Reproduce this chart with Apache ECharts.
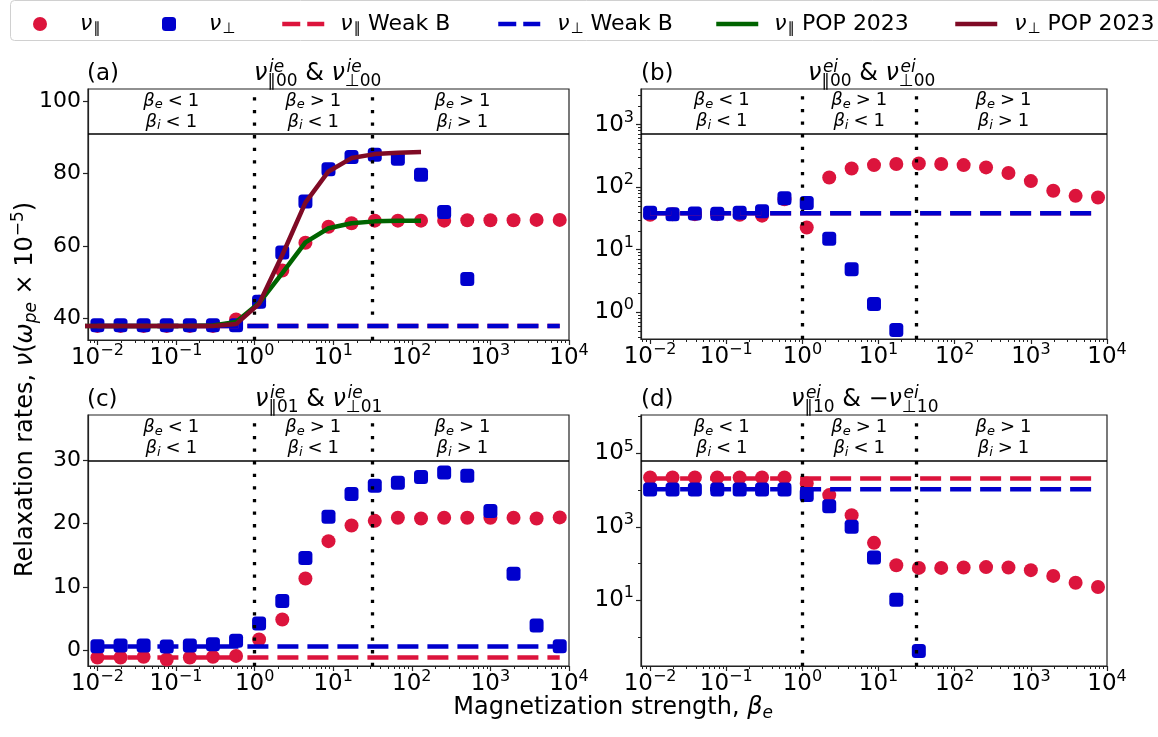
<!DOCTYPE html>
<html>
<head>
<meta charset="utf-8">
<script src="https://cdn.jsdelivr.net/npm/echarts@6.0.0/dist/echarts.min.js"></script>
<style>
  html, body { margin: 0; background: #fff; }
  #main { width: 1158px; height: 737px; }
</style>
</head>
<body>
<div id="main"></div>
<script>
// magnetization strength beta_e of every sample
var beta = [0.01, 0.0197, 0.0387, 0.0762, 0.150, 0.295, 0.581, 1.14, 2.25, 4.43, 8.71,
            17.1, 33.8, 66.5, 131, 258, 508, 1000, 1970, 3870, 7620];

// (a) nu^ie_00
var aPar  = [37.9, 37.9, 37.9, 37.9, 37.9, 37.9, 39.7, 44.6, 53.2, 60.9, 65.3, 66.3, 67.0, 67.0, 67.0, 67.0, 67.1, 67.1, 67.1, 67.2, 67.2];
var aPerp = [38.1, 38.1, 38.1, 38.1, 38.1, 38.1, 38.1, 44.6, 58.2, 72.3, 81.2, 84.6, 85.2, 84.1, 79.7, 69.4, 50.9, null, null, null, null];
var aWeak = [37.9, 37.9];   // parallel, perpendicular
var popBeta = [0.005, 0.01, 0.0197, 0.0387, 0.0762, 0.150, 0.295, 0.581, 1.14, 2.25, 4.43, 8.71, 17.1, 33.8, 66.5, 131];
var popPar  = [37.9, 37.9, 37.9, 37.9, 37.9, 37.9, 38.0, 39.0, 44.2, 52.5, 61.0, 64.9, 66.3, 66.8, 67.0, 67.0];
var popPerp = [37.9, 37.9, 37.9, 37.9, 37.9, 37.9, 37.9, 38.4, 44.0, 57.5, 72.0, 80.6, 84.3, 85.4, 85.8, 86.0];

// (b) nu^ei_00
var bPar  = [36, 37, 37, 37, 36, 35, 64, 22.6, 143, 199, 225, 234, 239, 234, 225, 207, 168, 125, 87.3, 72.6, 68.2];
var bPerp = [39, 37, 38, 37.5, 39, 41, 66.7, 55.5, 14.9, 4.85, 1.35, 0.52, null, null, 0.33, null, null, null, null, null, null];
var bWeak = [38.3, 38.3];

// (c) nu^ie_01
var cPar  = [-1.16, -1.16, -1.05, -1.48, -1.16, -1.05, -0.9, 1.69, 4.85, 11.34, 17.25, 19.73, 20.46, 20.94, 20.83, 20.94, 20.94, 20.94, 20.94, 20.83, 21.0];
var cPerp = [0.63, 0.74, 0.74, 0.58, 0.74, 0.95, 1.48, 4.22, 7.8, 14.6, 21.1, 24.7, 26.0, 26.5, 27.4, 28.1, 27.6, 22.0, 12.1, 3.9, 0.63];
var cWeak = [-1.16, 0.58];

// (d) nu^ei_10 and -nu^ei_10
var dPar  = [22100, 22100, 22100, 22100, 22100, 22100, 22100, 15200, 7300, 2080, 366, 90, 76, 76, 78, 80, 78, 66, 46, 30, 23];
var dPerp = [10400, 10400, 10400, 10400, 10400, 10400, 10400, 7300, 3660, 1000, 146, 10.4, 0.415, null, null, null, null, null, null, null, null];
var dWeak = [20800, 10600];

// regime boundaries and axis ranges
var regimeX = [1, 31];
var bandY = [91, 718, 30, 63000];
var yRange = [[34, 103.4], [0.372, 3715], [-2.5, 37.2], [0.162, 1.11e6]];
var yTicks = [[40, 60, 80, 100], [1, 10, 100, 1000], [0, 10, 20, 30], [10, 1000, 100000]];
var xTicks = [0.01, 0.1, 1, 10, 100, 1000, 10000];
var XMIN = 0.00759, XMAX = 1e4;

var RED = '#DC143C', BLUE = '#0000CD', GREEN = '#006400', MAROON = '#7F0A25';
var FF = '"DejaVu Sans"';

var grids = [
    {left: 88, top: 89, width: 481, height: 251},
    {left: 641, top: 89, width: 466, height: 250},
    {left: 88, top: 415, width: 481, height: 251},
    {left: 641, top: 415, width: 466, height: 251}
];
var isLog = [false, true, false, true];

function minorLog(lo, hi) {
    var out = [];
    for (var e = -3; e <= 6; e++) {
        for (var m = 2; m <= 9; m++) {
            var v = m * Math.pow(10, e);
            if (v >= lo && v <= hi) out.push(v);
        }
    }
    return out;
}

function powLabel(v) {
    var e = Math.round(Math.log10(v));
    return '{b|10}{p|' + (e < 0 ? '\u2212' + (-e) : e) + '}';
}
var powRich = {
    b: {fontSize: 23, fontFamily: FF, color: '#000'},
    p: {fontSize: 16, fontFamily: FF, color: '#000', padding: [0, 0, 14, 0]}
};
var axCol = '#222';

var xAxes = [], yAxes = [];
grids.forEach(function (g, i) {
    xAxes.push({
        type: 'log', logBase: 10, gridIndex: i, min: XMIN, max: XMAX, position: 'bottom',
        axisLine: {show: true, onZero: false, lineStyle: {color: axCol, width: 1.2}},
        axisTick: {show: true, length: 5, customValues: xTicks, lineStyle: {color: axCol, width: 1.2}},
        axisLabel: {customValues: xTicks, formatter: powLabel, rich: powRich, margin: 3, color: '#000'},
        splitLine: {show: false}
    });
    var y = {
        type: isLog[i] ? 'log' : 'value', gridIndex: i, min: yRange[i][0], max: yRange[i][1], position: 'left',
        axisLine: {show: true, onZero: false, lineStyle: {color: axCol, width: 1.2}},
        axisTick: {show: true, length: 5, customValues: yTicks[i], lineStyle: {color: axCol, width: 1.2}},
        axisLabel: {customValues: yTicks[i], margin: 7, color: '#000', fontSize: 22, fontFamily: FF},
        splitLine: {show: false}
    };
    if (isLog[i]) { y.logBase = 10; y.axisLabel.formatter = powLabel; y.axisLabel.rich = powRich; }
    yAxes.push(y);
});
// minor ticks drawn by overlay axes
grids.forEach(function (g, i) {
    xAxes.push({
        type: 'log', logBase: 10, gridIndex: i, min: XMIN, max: XMAX, position: 'bottom',
        axisLine: {show: false, onZero: false}, axisLabel: {show: false}, splitLine: {show: false},
        axisTick: {show: true, length: 3, customValues: minorLog(XMIN, XMAX), lineStyle: {color: axCol, width: 1}}
    });
});
[[1, minorLog(yRange[1][0], yRange[1][1])], [3, [1, 100, 10000, 1000000]]].forEach(function (m) {
    yAxes.push({
        type: 'log', logBase: 10, gridIndex: m[0], min: yRange[m[0]][0], max: yRange[m[0]][1], position: 'left',
        axisLine: {show: false, onZero: false}, axisLabel: {show: false}, splitLine: {show: false},
        axisTick: {show: true, length: 3, customValues: m[1], lineStyle: {color: axCol, width: 1}}
    });
});

function pairs(xs, ys) {
    var out = [];
    for (var i = 0; i < xs.length; i++) if (ys[i] != null) out.push([xs[i], ys[i]]);
    return out;
}

var bandRich = {
    b: {fontSize: 18, fontFamily: FF, fontStyle: 'italic', color: '#000'},
    s: {fontSize: 13, fontFamily: FF, fontStyle: 'italic', color: '#000', padding: [8, 0, 0, 0]},
    g: {fontSize: 18, fontFamily: FF, color: '#000', padding: [0, 5, 0, 5]},
    t: {fontSize: 18, fontFamily: FF, color: '#000'}
};
function bandText(e, i) {
    return '{b|\u03b2}{s|e}{g|' + e + '}{t|1}\n{b|\u03b2}{s|i}{g|' + i + '}{t|1}';
}

var series = [];
var panels = [[aPar, aPerp, aWeak], [bPar, bPerp, bWeak], [cPar, cPerp, cWeak], [dPar, dPerp, dWeak]];
panels.forEach(function (p, i) {
    var ax = {xAxisIndex: i, yAxisIndex: i};
    series.push(Object.assign({name: 'par', type: 'scatter', symbol: 'circle', symbolSize: 14,
        itemStyle: {color: RED, opacity: 1}, data: pairs(beta, p[0]), z: 2}, ax));
    series.push(Object.assign({name: 'perp', type: 'scatter', symbol: 'roundRect', symbolSize: 14,
        itemStyle: {color: BLUE, opacity: 1}, data: pairs(beta, p[1]), z: 3}, ax));
    series.push(Object.assign({name: 'parW', type: 'line', symbol: 'none', z: 4,
        lineStyle: {color: RED, width: 4.5, type: [21, 9]}, itemStyle: {color: RED},
        data: [[beta[0], p[2][0]], [beta[beta.length - 1], p[2][0]]]}, ax));
    series.push(Object.assign({name: 'perpW', type: 'line', symbol: 'none', z: 5,
        lineStyle: {color: BLUE, width: 4.5, type: [21, 9]}, itemStyle: {color: BLUE},
        data: [[beta[0], p[2][1]], [beta[beta.length - 1], p[2][1]]]}, ax));
    if (i === 0) {
        series.push(Object.assign({name: 'parP', type: 'line', symbol: 'none', z: 6,
            lineStyle: {color: GREEN, width: 4.5}, itemStyle: {color: GREEN},
            data: pairs(popBeta, popPar)}, ax));
        series.push(Object.assign({name: 'perpP', type: 'line', symbol: 'none', z: 7,
            lineStyle: {color: MAROON, width: 4.5}, itemStyle: {color: MAROON},
            data: pairs(popBeta, popPerp)}, ax));
    }
    var yTop = yRange[i][1];
    series.push(Object.assign({name: 'guides', type: 'line', data: [], silent: true, z: 20,
        markLine: {
            silent: true, symbol: ['none', 'none'], label: {show: false},
            lineStyle: {color: '#000', width: 3.3, type: [3.3, 9.3]},
            data: [{xAxis: regimeX[0]}, {xAxis: regimeX[1]},
                   {yAxis: bandY[i], lineStyle: {type: 'solid', width: 1.6, color: '#000'}}]
        },
        markArea: {
            silent: true, itemStyle: {color: 'rgba(0,0,0,0)'},
            label: {show: true, position: 'inside', rich: bandRich, color: '#000'},
            data: [
                [{xAxis: XMIN, yAxis: bandY[i], label: {formatter: bandText('<', '<')}}, {xAxis: regimeX[0], yAxis: yTop}],
                [{xAxis: regimeX[0], yAxis: bandY[i], label: {formatter: bandText('>', '<')}}, {xAxis: regimeX[1], yAxis: yTop}],
                [{xAxis: regimeX[1], yAxis: bandY[i], label: {formatter: bandText('>', '>'), offset: [-8, 0]}}, {xAxis: XMAX, yAxis: yTop}]
            ]
        }}, ax));
});

// legend, one component per entry so each sits where it should
var legendText = {
    par: '{n|\u03bd}{s|\u2225}', perp: '{n|\u03bd}{s|\u22a5}',
    parW: '{n|\u03bd}{s|\u2225}{t| Weak B}', perpW: '{n|\u03bd}{s|\u22a5}{t| Weak B}',
    parP: '{n|\u03bd}{s|\u2225}{t| POP 2023}', perpP: '{n|\u03bd}{s|\u22a5}{t| POP 2023}'
};
var legendRich = {
    n: {fontSize: 22, fontFamily: FF, fontStyle: 'italic', color: '#000'},
    s: {fontSize: 15, fontFamily: FF, color: '#000', padding: [11, 0, 0, 1]},
    t: {fontSize: 22, fontFamily: FF, color: '#000'}
};
// [left edge of handle, handle width, gap before text]
var legendPos = {par: [33, 14, 28], perp: [162, 14, 28], parW: [280, 42, 11], perpW: [496, 42, 12],
                 parP: [714, 42, 11], perpP: [953, 42, 12]};
var legends = Object.keys(legendPos).map(function (k) {
    var dashed = (k === 'parW' || k === 'perpW');
    var isLine = legendPos[k][1] > 20;
    var lg = {
        data: [k], left: legendPos[k][0], top: 13, padding: 0,
        itemWidth: legendPos[k][1], itemHeight: 14, selectedMode: false,
        lineStyle: {width: 4.5, type: dashed ? [18, 7] : 'solid'},
        formatter: function (name) { return legendText[name]; },
        textStyle: {fontSize: 22, fontFamily: FF, color: '#000', padding: [0, 0, 0, legendPos[k][2]], rich: legendRich}
    };
    if (isLine) lg.itemStyle = {opacity: 0};
    return lg;
});

// mathtext-like titles
var mctx = document.createElement('canvas').getContext('2d');
function tw(s, size, italic) {
    mctx.font = (italic ? 'italic ' : '') + size + 'px "DejaVu Sans"';
    return mctx.measureText(s).width;
}
function txt(x, base, s, size, italic) {
    return {type: 'text', x: x, y: base - 0.3 * size, silent: true,
        style: {text: s, font: (italic ? 'italic ' : '') + size + 'px "DejaVu Sans"', fill: '#000',
                align: 'left', verticalAlign: 'middle', textAlign: 'left', textVerticalAlign: 'middle'}};
}
function mathTitle(x0, base, parts) {
    var els = [], x = x0, F = 24, S = 17;
    parts.forEach(function (p) {
        if (p.k === 'ss') {
            els.push(txt(x + 1.5, base - 8, p.sup, S, true));
            els.push(txt(x, base + 6, p.sub, S, false));
            x += Math.max(tw(p.sup, S, true) + 1.5, tw(p.sub, S, false));
        } else {
            els.push(txt(x, base, p.s, F, p.k === 'n'));
            x += tw(p.s, F, p.k === 'n');
        }
    });
    return els;
}
function titleParts(sup, sub1, sub2, mid) {
    return [{k: 'n', s: '\u03bd'}, {k: 'ss', sup: sup, sub: '\u2225' + sub1}, {k: 't', s: mid},
            {k: 'n', s: '\u03bd'}, {k: 'ss', sup: sup, sub: '\u22a5' + sub2}];
}

var graphics = [
    {type: 'rect', shape: {x: 10.5, y: 0.5, width: 1160, height: 40, r: 4}, z: -1, silent: true,
     style: {fill: 'rgba(255,255,255,0.8)', stroke: '#d0d0d0', lineWidth: 1}},
    txt(87, 81, '(a)', 23, false), txt(641, 81, '(b)', 23, false),
    txt(87, 407, '(c)', 23, false), txt(641, 407, '(d)', 23, false)
];
graphics = graphics
    .concat(mathTitle(254, 81, titleParts('ie', '00', '00', ' & ')))
    .concat(mathTitle(808, 81, titleParts('ei', '00', '00', ' & ')))
    .concat(mathTitle(255, 407, titleParts('ie', '01', '01', ' & ')))
    .concat(mathTitle(791, 407, titleParts('ei', '10', '10', ' & \u2212')));

var labelRich = {
    n: {fontSize: 24, fontFamily: FF, fontStyle: 'italic', color: '#000'},
    s: {fontSize: 17, fontFamily: FF, fontStyle: 'italic', color: '#000', padding: [11, 0, 0, 0]},
    p: {fontSize: 17, fontFamily: FF, color: '#000', padding: [0, 0, 14, 0]},
    t: {fontSize: 24, fontFamily: FF, color: '#000'}
};
graphics.push({
    type: 'text', x: 26, y: 577, rotation: Math.PI / 2, silent: true,
    style: {text: '{t|Relaxation rates, }{n|\u03bd}{t|(}{n|\u03c9}{s|pe}{t| \u00d7 10}{p|\u22125}{t|)}',
            rich: labelRich, fill: '#000', font: '24px "DejaVu Sans"',
            align: 'left', verticalAlign: 'middle', textAlign: 'left', textVerticalAlign: 'middle'}
});
graphics.push({
    type: 'text', x: 773, y: 708, silent: true,
    style: {text: '{t|Magnetization strength, }{n|\u03b2}{s|e}',
            rich: labelRich, fill: '#000', font: '24px "DejaVu Sans"',
            align: 'right', verticalAlign: 'middle', textAlign: 'right', textVerticalAlign: 'middle'}
});

var myChart = echarts.init(document.getElementById('main'));
myChart.setOption({
    animation: false,
    backgroundColor: '#fff',
    textStyle: {fontFamily: FF},
    grid: grids.map(function (g) {
        return Object.assign({show: true, borderColor: axCol, borderWidth: 1.2, backgroundColor: 'transparent'}, g);
    }),
    legend: legends,
    xAxis: xAxes,
    yAxis: yAxes,
    series: series,
    graphic: graphics
});
</script>
</body>
</html>
